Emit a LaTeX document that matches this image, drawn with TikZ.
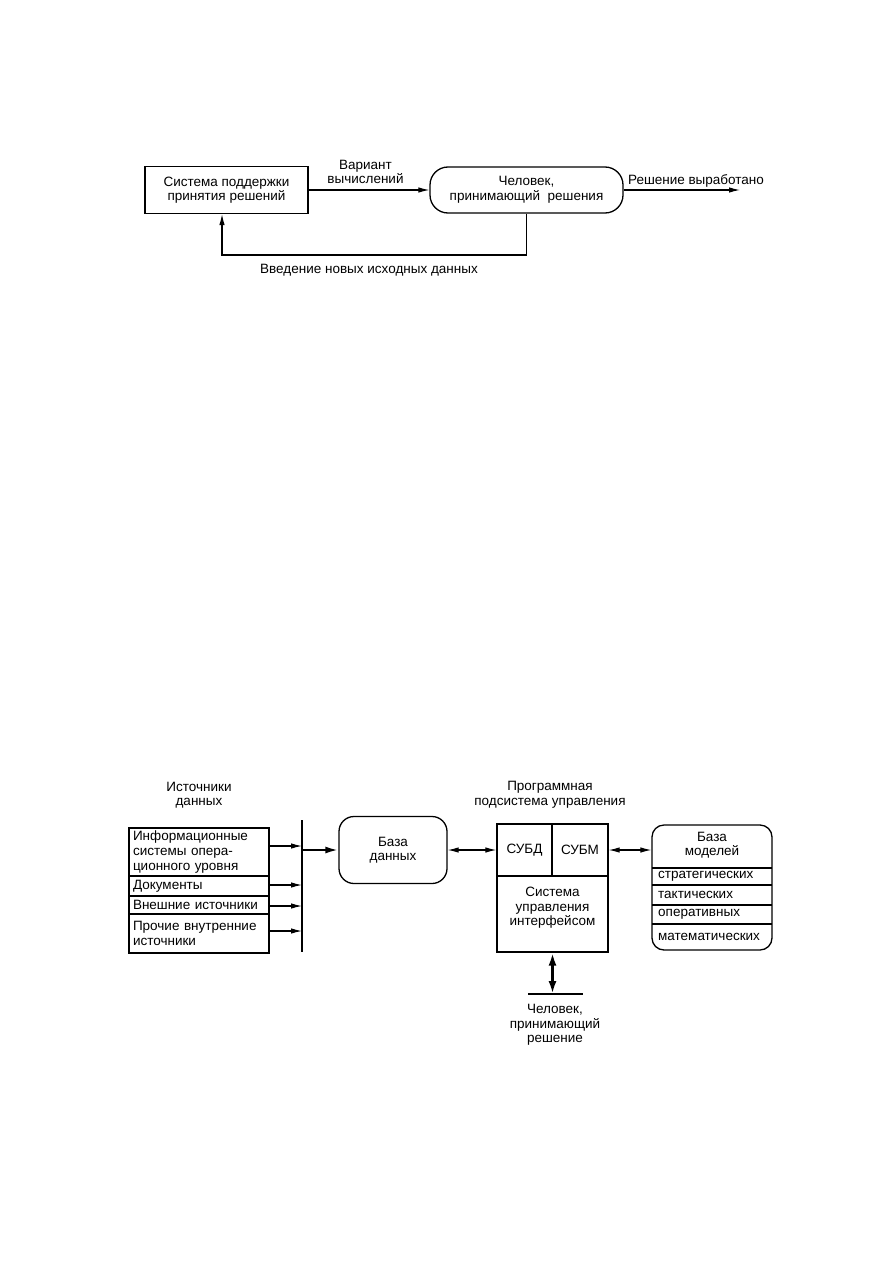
\documentclass[tikz,border=0pt]{standalone}
\usepackage{fontspec}
\setmainfont{Liberation Sans}
\usetikzlibrary{arrows.meta}
\begin{document}
\begin{tikzpicture}[x=1pt,y=-1pt,
  font=\fontsize{13.5}{14.6}\selectfont,
  every node/.style={inner sep=0pt, align=center},
  box/.style={draw, line width=1.3pt},
  rowbox/.style={draw, line width=1.3pt, minimum width=140, text width=132, inner xsep=4pt, align=left},
  arr/.style={line width=1.1pt, -{Latex[length=11pt,width=5.5pt]}},
  dbl/.style={line width=1.1pt, {Latex[length=11pt,width=5.5pt]}-{Latex[length=11pt,width=5.5pt]}},
  arrthick/.style={line width=2.2pt, -{Latex[length=13pt,width=7pt]}},
  dblthick/.style={line width=2.6pt, {Latex[length=13pt,width=8pt]}-{Latex[length=13pt,width=8pt]}},
  barline/.style={line width=2.8pt}
]
\path[fill=white, use as bounding box] (0,0) rectangle (893,1263);

% ---------- top diagram ----------
\node[box, minimum width=163, minimum height=47] (spdr) at (226.5,190) {Система поддержки\\принятия решений};
\node[box, rounded corners=18, minimum width=193, minimum height=46] (lpr) at (526.5,190) {Человек,\\принимающий\ \ решения};
\draw[arr] (spdr) -- (lpr);
\node (var) at (365.5,172) {Вариант\\вычислений};
\coordinate (out) at (740,190);
\draw[arr] (lpr) -- (out);
\node (res) at (696,181) {Решение выработано};
\coordinate (fb) at (222,255);
\draw[arr] (lpr.south) |- (fb) -- (fb |- spdr.south);
\node (vvod) at (369,270) {Введение новых исходных данных};

% ---------- bottom diagram ----------
\node (srct) at (199,795) {Источники\\данных};
\node[rowbox, minimum height=48] (r1) at (199,852) {Информационные\\системы опера-\\ционного уровня};
\node[rowbox, minimum height=20] (r2) at (199,886) {Документы};
\node[rowbox, minimum height=18] (r3) at (199,905) {Внешние источники};
\node[rowbox, minimum height=39] (r4) at (199,933.5) {Прочие внутренние\\источники};

\coordinate (bt) at (302,820);
\coordinate (bb) at (302,952);
\draw[barline] (bt) -- (bb);
\path ([yshift=6pt]r1.east) coordinate (a1);
\path ([yshift=1pt]r2.east) coordinate (a2);
\path ([yshift=-1pt]r3.east) coordinate (a3);
\path ([yshift=2.5pt]r4.east) coordinate (a4);
\foreach \a in {a1,a2,a3,a4} \draw[arr] (\a) -- (\a -| bt);

\node[box, rounded corners=15, minimum width=108, minimum height=67] (db) at (393,850) {База\\данных};
\draw[arrthick] (db.west -| bt) -- (db.west);

\node (prt) at (550,795) {Программная\\подсистема управления};
\node[box, minimum width=55, minimum height=52] (subd) at (524.5,850) {СУБД};
\node[box, minimum width=56, minimum height=52] (subm) at (580,850) {СУБМ};
\node[box, minimum width=111, minimum height=76] (sui) at (552.5,914) {};
\node (suit) at (552.5,908) {Система\\управления\\интерфейсом};
\draw[dbl] (db) -- (subd);

\node[box, rounded corners=12, minimum width=120, minimum height=125] (mb) at (712,887.5) {};
\foreach \yy in {868,885,905,924} \draw[line width=1.3pt] (652,\yy) -- (772,\yy);
\node (mbt) at (712,845) {База\\моделей};
\node[anchor=west] (m1) at (658,876.5) {стратегических};
\node[anchor=west] (m2) at (658,895) {тактических};
\node[anchor=west] (m3) at (658,914.5) {оперативных};
\node[anchor=west] (m4) at (658,937) {математических};
\draw[dbl] (subm.east) -- (subm.east -| mb.west);

\coordinate (pl) at (528,994);
\coordinate (pr) at (583,994);
\draw[barline] (pl) -- (pr);
\draw[dblthick] (sui.south) -- (sui.south |- pl);
\node (lpr2) at (555,1025) {Человек,\\принимающий\\решение};
\end{tikzpicture}
\end{document}
